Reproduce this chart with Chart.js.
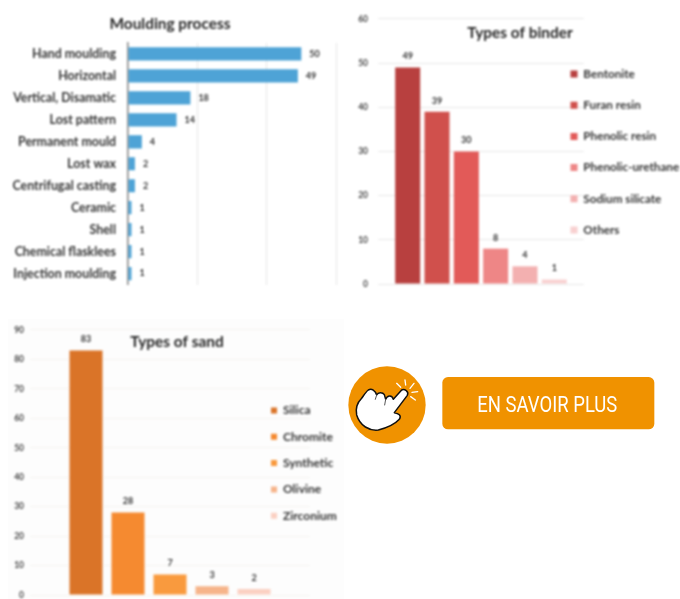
<!DOCTYPE html>
<html><head><meta charset="utf-8">
<script src="https://cdn.jsdelivr.net/npm/chart.js@4/dist/chart.umd.min.js"></script>
<style>
html,body{margin:0;padding:0;background:#fff;overflow:hidden}
#page{position:relative;width:680px;height:599px;overflow:hidden}
canvas{position:absolute;display:block}
#c1{left:0;top:0;filter:blur(.8px)}
#c2{left:350px;top:0;filter:blur(.8px)}
#c3{left:0;top:310px;filter:blur(.8px)}
#sandbg{position:absolute;left:8px;top:319px;width:336px;height:280px;background:#fdfdfd}
#cta{position:absolute;left:340px;top:350px}
</style></head><body><div id="page">
<div id="sandbg"></div>
<canvas id="c1" width="350" height="304"></canvas>
<canvas id="c2" width="330" height="300"></canvas>
<canvas id="c3" width="345" height="310"></canvas>
<svg id="cta" width="330" height="110" viewBox="0 0 990 330">
  <circle cx="141" cy="165" r="116" fill="#f09200"/>
  <path d="M185 120 C193 116 208 124 202 136 L163 188 C175 190 186 196 178 208 C165 222 140 234 115 240 C88 243 60 228 50 195 C46 175 52 158 65 145 C72 135 78 125 85 120 C95 114 106 122 110 135 C114 126 128 126 133 134 L137 148 C142 136 156 134 160 148 Z" fill="#fff" stroke="#111" stroke-width="4.5" stroke-linejoin="round"/>
  <path d="M110 135 L106 148 M137 148 L134 165" stroke="#555" stroke-width="3" fill="none" stroke-linecap="round"/>
  <path d="M170 100 L182 112 M195 90 L197 105 M222 100 L210 115 M233 125 L216 127 M226 150 L212 140" stroke="#fff" stroke-width="4" stroke-linecap="round" fill="none"/>
  <rect x="307" y="81" width="636" height="157" rx="17" fill="#f09200"/>
  <text x="622" y="186" text-anchor="middle" textLength="420" lengthAdjust="spacingAndGlyphs" font-family="Roboto" font-size="66" fill="#fff">EN SAVOIR PLUS</text>
</svg>
</div>
<script>
const processTitle = 'Moulding process';
const processLabels = ['Hand moulding','Horizontal','Vertical, Disamatic','Lost pattern','Permanent mould','Lost wax','Centrifugal casting','Ceramic','Shell','Chemical flasklees','Injection moulding'];
const processValues = [50,49,18,14,4,2,2,1,1,1,1];

const binderTitle = 'Types of binder';
const binderLabels = ['Bentonite','Furan resin','Phenolic resin','Phenolic-urethane','Sodium silicate','Others'];
const binderValues = [49,39,30,8,4,1];
const binderColors = ['#b8403f','#d0504c','#e25a58','#ee8686','#f3b0b0','#f8d0d0'];

const sandTitle = 'Types of sand';
const sandLabels = ['Silica','Chromite','Synthetic','Olivine','Zirconium'];
const sandValues = [83,28,7,3,2];
const sandColors = ['#da7428','#f58a30','#f99a3e','#f6b48a','#fbd0c2'];

const FONT = 'Lato, "Open Sans", sans-serif';
const INK = '#333333';

const placeBoxes = {
  id:'placeBoxes',
  beforeDraw(chart,args,o){
    const t = chart.titleBlock;
    if(t){ t.left=o.titleX-150; t.right=o.titleX+150; t.top=o.titleY-t.height/2; t.bottom=t.top+t.height; }
    const l = chart.legend;
    if(l && l.options.display){
      const pad=l.options.labels.padding, h=l._itemHeight||l.options.labels.font.size;
      l.left=o.legendX-pad; l.right=l.left+l.width;
      l.top=o.legendY-pad-h/2; l.bottom=l.top+l.height;
    }
  }
};
const valueLabels = {
  id:'valueLabels',
  afterDatasetsDraw(chart,args,o){
    const c=chart.ctx; c.save();
    c.font='bold 9px '+FONT; c.fillStyle=INK;
    chart.data.datasets.forEach((ds,i)=>{
      chart.getDatasetMeta(i).data.forEach((el,j)=>{
        const v=ds.data[j];
        if(o.horizontal){ c.textAlign='left'; c.textBaseline='middle'; c.fillText(v,el.x+8,el.y); }
        else { c.textAlign='center'; c.textBaseline='middle'; c.fillText(v,el.x,el.y-11); }
      });
    });
    c.restore();
  }
};
Chart.defaults.font.family=FONT;
Chart.defaults.animation=false;

function titleOpt(text){
  return {display:true,text,color:'#262626',padding:0,font:{size:15.4,weight:'bold',family:FONT}};
}
new Chart(document.getElementById('c1'),{
  type:'bar',
  data:{labels:processLabels,datasets:[{data:processValues,backgroundColor:'#4ea3d6',barPercentage:.6,categoryPercentage:1}]},
  options:{
    indexAxis:'y',responsive:false,
    layout:{padding:{top:24.5,right:14,bottom:11,left:0}},
    plugins:{
      legend:{display:false},tooltip:{enabled:false},
      title:titleOpt(processTitle),
      placeBoxes:{titleX:170,titleY:24},
      valueLabels:{horizontal:true}
    },
    scales:{
      x:{min:0,max:60,ticks:{display:false,stepSize:20},grid:{color:'#e6e6e6',drawTicks:false},border:{display:false}},
      y:{ticks:{color:INK,padding:12,font:{size:12.4,weight:'bold'},autoSkip:false},grid:{display:false,drawTicks:false},
         border:{color:'#8a8a8a',width:1.5},afterFit(s){s.width=128;}}
    }
  },
  plugins:[placeBoxes,valueLabels]
});

function columnChart(id,title,labels,values,colors,cfg){
  new Chart(document.getElementById(id),{
    type:'bar',
    data:{labels:[title],datasets:labels.map((n,i)=>({label:n,data:[values[i]],backgroundColor:colors[i],
      barPercentage:cfg.barPct,categoryPercentage:cfg.catPct}))},
    options:{
      responsive:false,
      layout:{padding:cfg.padding},
      plugins:{
        tooltip:{enabled:false},
        title:titleOpt(title),
        legend:{display:true,position:'chartArea',align:'start',
          labels:{boxWidth:cfg.box,boxHeight:cfg.box,padding:cfg.rowGap,color:INK,font:{size:cfg.legendSize,weight:'bold'}}},
        placeBoxes:cfg.place,
        valueLabels:{horizontal:false}
      },
      scales:{
        x:{ticks:{display:false},grid:{display:false,drawTicks:false},border:{display:false}},
        y:{min:0,max:cfg.max,ticks:{stepSize:10,color:'#444',padding:cfg.tickPad,font:{size:8.5,weight:'bold'}},
           grid:{color:cfg.grid,drawTicks:false},border:{display:false},afterFit(s){s.width=cfg.axisW;}}
      }
    },
    plugins:[placeBoxes,valueLabels]
  });
}
columnChart('c2',binderTitle,binderLabels,binderValues,binderColors,{
  barPct:.853,catPct:.854,max:60,tickPad:10,axisW:28,grid:'#e8e8e8',box:7,legendSize:11.7,rowGap:19.5,
  padding:{top:0.5,right:96,bottom:16,left:0},
  place:{titleX:170,titleY:33,legendX:220.5,legendY:74}
});
columnChart('c3',sandTitle,sandLabels,sandValues,sandColors,{
  barPct:.786,catPct:.75,max:90,tickPad:6,axisW:30,grid:'#f7f5f2',box:6,legendSize:12,rowGap:14.3,
  padding:{top:1.5,right:35,bottom:25,left:0},
  place:{titleX:177,titleY:32.5,legendX:271,legendY:100.5}
});
</script></body></html>
